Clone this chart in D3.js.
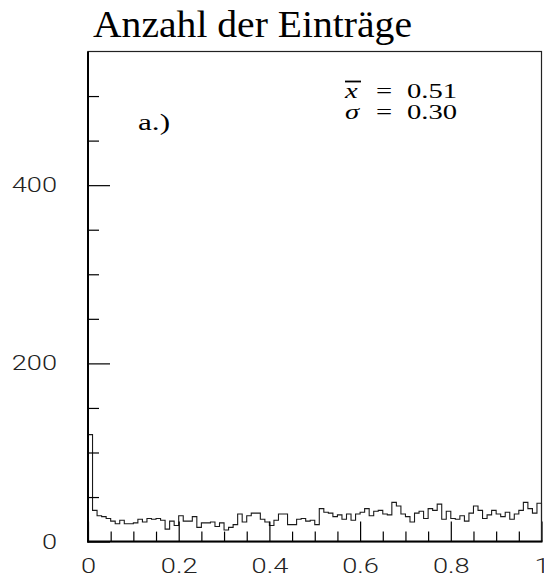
<!DOCTYPE html>
<html>
<head>
<meta charset="utf-8">
<script src="https://cdn.jsdelivr.net/npm/d3@7"></script>
<style>
  html, body { margin: 0; padding: 0; background: #fff; }
  svg { display: block; }
</style>
</head>
<body>
<svg id="chart" width="544" height="581"></svg>
<script>
// Histogram of 100 bins over [0, 1]
const binEdges = [0, 1];
const binCount = 100;
const counts = [
  120, 35, 29, 28, 26, 23, 20, 24, 20, 20,
  21, 25, 22, 26, 25, 26, 24, 14, 23, 18,
  29, 23, 23, 28, 16, 21, 21, 22, 17, 21,
  13, 16, 19, 31, 22, 29, 32, 32, 25, 22,
  18, 24, 31, 31, 19, 19, 25, 26, 23, 24,
  19, 37, 33, 32, 28, 30, 25, 31, 24, 31,
  33, 37, 29, 34, 35, 31, 30, 44, 40, 31,
  28, 22, 32, 34, 26, 37, 35, 42, 25, 34,
  26, 25, 29, 23, 32, 40, 35, 26, 30, 35,
  31, 28, 33, 25, 31, 35, 44, 37, 32, 43
];
const yMajorTicks = [0, 200, 400];
const yMinorTicks = [50, 100, 150, 250, 300, 350, 450, 500];
const xMajorTicks = [0, 0.2, 0.4, 0.6, 0.8, 1];
const xMinorTicks = [0.05, 0.1, 0.15, 0.25, 0.3, 0.35, 0.45, 0.5, 0.55, 0.65, 0.7, 0.75, 0.85, 0.9, 0.95];
const xTickLabels = ["0", "0.2", "0.4", "0.6", "0.8", "1"];
const titleText = "Anzahl der Einträge";
const panelLabel = "a.)";
const statNames = ["x", "σ"];
const statValues = ["0.51", "0.30"];

const L = 88, R = 541.5, T = 51.5, B = 541.6;
const svg = d3.select("#chart");

const x = d3.scaleLinear().domain(binEdges).range([L, R]);
const y = d3.scaleLinear().domain([0, 550]).range([B, T]);

// Step outline of the histogram
const pts = [[0, 0]];
const w = (binEdges[1] - binEdges[0]) / binCount;
counts.forEach((c, i) => {
  pts.push([binEdges[0] + i * w, c]);
  pts.push([binEdges[0] + (i + 1) * w, c]);
});
pts.push([binEdges[1], 0]);

svg.append("path")
  .attr("d", d3.line().x(d => x(d[0])).y(d => y(d[1]))(pts))
  .attr("fill", "none")
  .attr("stroke", "#1a1a1a")
  .attr("stroke-width", 1.1);

const labelFont = "Roboto, Liberation Sans, Arial, sans-serif";
const sx = 1.36;

// Y axis: ticks point inward, labels to the left
const yMajor = svg.append("g").attr("transform", `translate(${L},0)`)
  .call(d3.axisLeft(y).tickValues(yMajorTicks).tickSize(-22).tickPadding(31).tickFormat(d3.format("d")));
yMajor.select(".domain").remove();
yMajor.selectAll("line").attr("stroke", "#000").attr("stroke-width", 1.2);
yMajor.selectAll("text")
  .attr("font-family", labelFont).attr("font-weight", 300).attr("font-size", 20).attr("fill", "#222")
  .attr("x", -31 / sx).attr("transform", `scale(${sx},1)`);

const yMinor = svg.append("g").attr("transform", `translate(${L},0)`)
  .call(d3.axisLeft(y).tickValues(yMinorTicks).tickSize(-11).tickFormat(""));
yMinor.select(".domain").remove();
yMinor.selectAll("line").attr("stroke", "#000").attr("stroke-width", 1.2);

// X axis: ticks point upward, labels below
const xMajor = svg.append("g").attr("transform", `translate(0,${B})`)
  .call(d3.axisBottom(x).tickValues(xMajorTicks).tickSize(-20).tickPadding(17)
    .tickFormat((d, i) => xTickLabels[i]));
xMajor.select(".domain").remove();
xMajor.selectAll("line").attr("stroke", "#000").attr("stroke-width", 1.2);
xMajor.selectAll("text")
  .attr("font-family", labelFont).attr("font-weight", 300).attr("font-size", 20).attr("fill", "#222")
  .attr("transform", `scale(${sx},1)`);

const xMinor = svg.append("g").attr("transform", `translate(0,${B})`)
  .call(d3.axisBottom(x).tickValues(xMinorTicks).tickSize(-10).tickFormat(""));
xMinor.select(".domain").remove();
xMinor.selectAll("line").attr("stroke", "#000").attr("stroke-width", 1.2);

// Frame
svg.append("rect")
  .attr("x", L).attr("y", T).attr("width", R - L).attr("height", B - T)
  .attr("fill", "none").attr("stroke", "#222").attr("stroke-width", 1.2);
svg.append("line").attr("x1", L).attr("x2", L).attr("y1", T).attr("y2", B + 1)
  .attr("stroke", "#000").attr("stroke-width", 2);
svg.append("line").attr("x1", L - 1).attr("x2", R + 1).attr("y1", B).attr("y2", B)
  .attr("stroke", "#000").attr("stroke-width", 2);

const serif = "Liberation Serif, Times New Roman, serif";

// Title
svg.append("text")
  .attr("x", 93).attr("y", 37)
  .attr("font-family", serif).attr("font-size", 37).attr("fill", "#000")
  .attr("textLength", 319).attr("lengthAdjust", "spacingAndGlyphs")
  .text(titleText);

// Panel label
svg.append("g").attr("transform", "translate(138,130) scale(1.3,1)")
  .append("text")
  .attr("font-family", serif).attr("font-size", 24).attr("fill", "#000")
  .text(panelLabel);

// Statistics: mean and standard deviation, one text per line
const ss = 1.3;
const statBase = [97.5, 118.5];
statNames.forEach((name, i) => {
  const t = svg.append("g")
    .attr("transform", `translate(345,${statBase[i]}) scale(${ss},1)`)
    .append("text")
    .attr("font-family", serif).attr("font-size", 22).attr("fill", "#000");
  t.append("tspan").attr("x", 0).attr("font-style", "italic").text(name);
  t.append("tspan").attr("x", (376 - 345) / ss).text("=");
  t.append("tspan").attr("x", (407 - 345) / ss).text(statValues[i]);
});
// Bar over the mean symbol
svg.append("line")
  .attr("x1", 345).attr("x2", 361).attr("y1", 81.5).attr("y2", 81.5)
  .attr("stroke", "#000").attr("stroke-width", 1.8);
</script>
</body>
</html>
